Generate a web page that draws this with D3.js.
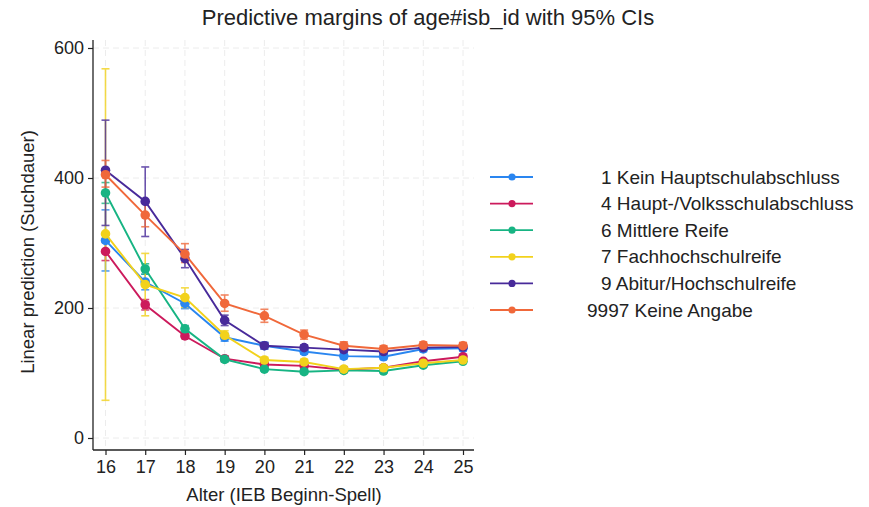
<!DOCTYPE html>
<html>
<head>
<meta charset="utf-8">
<script src="https://cdn.jsdelivr.net/npm/d3@7"></script>
<style>
  html, body { margin: 0; padding: 0; background: #fff; }
  svg { display: block; font-family: "Liberation Sans", Arial, sans-serif; }
</style>
</head>
<body>
<svg id="chart" width="869" height="507"></svg>
<script>
// Ages on the x axis
const ages = [16, 17, 18, 19, 20, 21, 22, 23, 24, 25];
const yTicks = [0, 200, 400, 600];

// Series labels and colours (Stata stcolor-like palette)
const seriesNames = [
  "1 Kein Hauptschulabschluss",
  "4 Haupt-/Volksschulabschluss",
  "6 Mittlere Reife",
  "7 Fachhochschulreife",
  "9 Abitur/Hochschulreife",
  "9997 Keine Angabe"
];
const seriesColors = ["#2a86f0", "#cc1a5c", "#17b483", "#f2d21c", "#482a9a", "#f0683a"];

// Predicted means per series
const meanKein    = [304, 240, 207, 155, 142, 133, 126, 125, 137, 138];
const meanHaupt   = [287, 205, 157, 122, 113, 111, 105, 108, 118, 125];
const meanMittl   = [377, 260, 168, 121, 106, 102, 104, 103, 112, 118];
const meanFach    = [314, 236, 216, 158, 120, 117, 106, 108, 115, 120];
const meanAbitur  = [412, 364, 276, 181, 142, 139, 136, 133, 139, 140];
const meanKeine   = [405, 343, 283, 207, 188, 159, 142, 137, 143, 142];

// Lower / upper 95% confidence limits
const loKein   = [257, 228, 199, 149, 137, 129, 122, 121, 133, 134];
const hiKein   = [351, 252, 215, 161, 147, 137, 130, 129, 141, 142];
const loHaupt  = [273, 197, 153, 118, 110, 108, 102, 105, 115, 122];
const hiHaupt  = [301, 213, 161, 126, 116, 114, 108, 111, 121, 128];
const loMittl  = [361, 252, 163, 117, 103,  99, 101, 100, 109, 115];
const hiMittl  = [393, 268, 173, 125, 109, 105, 107, 106, 115, 121];
const loFach   = [ 58, 188, 201, 152, 116, 113, 102, 104, 111, 116];
const hiFach   = [568, 284, 231, 165, 124, 121, 110, 112, 119, 124];
const loAbitur = [327, 310, 262, 173, 137, 135, 132, 129, 135, 136];
const hiAbitur = [489, 417, 290, 189, 147, 143, 140, 137, 143, 144];
const loKeine  = [386, 325, 270, 195, 178, 152, 136, 132, 138, 137];
const hiKeine  = [427, 362, 299, 220, 198, 166, 148, 142, 148, 147];

const means = [meanKein, meanHaupt, meanMittl, meanFach, meanAbitur, meanKeine];
const los   = [loKein, loHaupt, loMittl, loFach, loAbitur, loKeine];
const his   = [hiKein, hiHaupt, hiMittl, hiFach, hiAbitur, hiKeine];

const series = seriesNames.map((name, i) => ({
  name, color: seriesColors[i],
  points: ages.map((a, j) => ({ age: a, v: means[i][j], lo: los[i][j], hi: his[i][j] }))
}));

const svg = d3.select("#chart");
const plot = { left: 93, right: 474, top: 40, bottom: 450 };

const x = d3.scaleLinear().domain([16, 25]).range([105.5, 463]);
const y = d3.scaleLinear().domain([0, 600]).range([438, 48]);

// Grid
const grid = svg.append("g").attr("stroke", "#ececec").attr("stroke-width", 1)
  .attr("stroke-dasharray", "6,4");
grid.selectAll("line.h").data(yTicks).join("line")
  .attr("x1", plot.left).attr("x2", plot.right)
  .attr("y1", d => y(d)).attr("y2", d => y(d));
grid.selectAll("line.v").data(ages).join("line")
  .attr("y1", plot.top).attr("y2", plot.bottom)
  .attr("x1", d => x(d)).attr("x2", d => x(d));

// Axes
const yAxis = d3.axisLeft(y).tickValues(yTicks).tickSize(5).tickPadding(4);
const gy = svg.append("g").attr("transform", `translate(${plot.left},0)`).call(yAxis);
gy.select(".domain").attr("d", `M0,${plot.top}V${plot.bottom}`);

const xAxis = d3.axisBottom(x).tickValues(ages).tickFormat(d3.format("d")).tickSize(5).tickPadding(5);
const gx = svg.append("g").attr("transform", `translate(0,${plot.bottom})`).call(xAxis);
gx.select(".domain").attr("d", `M${plot.left},0H${plot.right}`);

[gx, gy].forEach(g => {
  g.selectAll(".domain").attr("stroke", "#222").attr("stroke-width", 1.3);
  g.selectAll(".tick line").attr("stroke", "#222").attr("stroke-width", 1.2);
  g.selectAll(".tick text").attr("fill", "#222").style("font-size", "18px")
    .style("font-family", "'Liberation Sans', Arial, sans-serif");
});

// Confidence intervals
const capW = 4;
series.forEach(s => {
  const g = svg.append("g").attr("stroke", s.color).attr("stroke-width", 1.6).attr("opacity", 0.8);
  g.selectAll("line.bar").data(s.points).join("line")
    .attr("x1", d => x(d.age)).attr("x2", d => x(d.age))
    .attr("y1", d => y(d.lo)).attr("y2", d => y(d.hi));
  g.selectAll("line.lo").data(s.points).join("line")
    .attr("x1", d => x(d.age) - capW).attr("x2", d => x(d.age) + capW)
    .attr("y1", d => y(d.lo)).attr("y2", d => y(d.lo));
  g.selectAll("line.hi").data(s.points).join("line")
    .attr("x1", d => x(d.age) - capW).attr("x2", d => x(d.age) + capW)
    .attr("y1", d => y(d.hi)).attr("y2", d => y(d.hi));
});

// Lines and markers
const line = d3.line().x(d => x(d.age)).y(d => y(d.v));
series.forEach(s => {
  svg.append("path").datum(s.points).attr("d", line)
    .attr("fill", "none").attr("stroke", s.color).attr("stroke-width", 1.9);
  svg.append("g").selectAll("circle").data(s.points).join("circle")
    .attr("cx", d => x(d.age)).attr("cy", d => y(d.v)).attr("r", 4.8)
    .attr("fill", s.color);
});

// Titles
svg.append("text").attr("x", 428).attr("y", 25).attr("text-anchor", "middle")
  .attr("fill", "#222").style("font-size", "22px")
  .text("Predictive margins of age#isb_id with 95% CIs");
svg.append("text").attr("x", 284).attr("y", 501).attr("text-anchor", "middle")
  .attr("fill", "#222").style("font-size", "18.5px")
  .text("Alter (IEB Beginn-Spell)");
svg.append("text").attr("transform", "translate(34,252) rotate(-90)")
  .attr("text-anchor", "middle").attr("fill", "#222").style("font-size", "18.5px")
  .text("Linear prediction (Suchdauer)");

// Legend
const legendX = [601, 601, 601, 601, 601, 587];
const leg = svg.append("g");
series.forEach((s, i) => {
  const cy = 177 + i * 26.6;
  leg.append("line").attr("x1", 490).attr("x2", 533).attr("y1", cy).attr("y2", cy)
    .attr("stroke", s.color).attr("stroke-width", 1.8);
  leg.append("circle").attr("cx", 512).attr("cy", cy).attr("r", 3.6).attr("fill", s.color);
  leg.append("text").attr("x", legendX[i]).attr("y", cy + 6.5).attr("fill", "#222")
    .style("font-size", "19px").text(s.name);
});
</script>
</body>
</html>
